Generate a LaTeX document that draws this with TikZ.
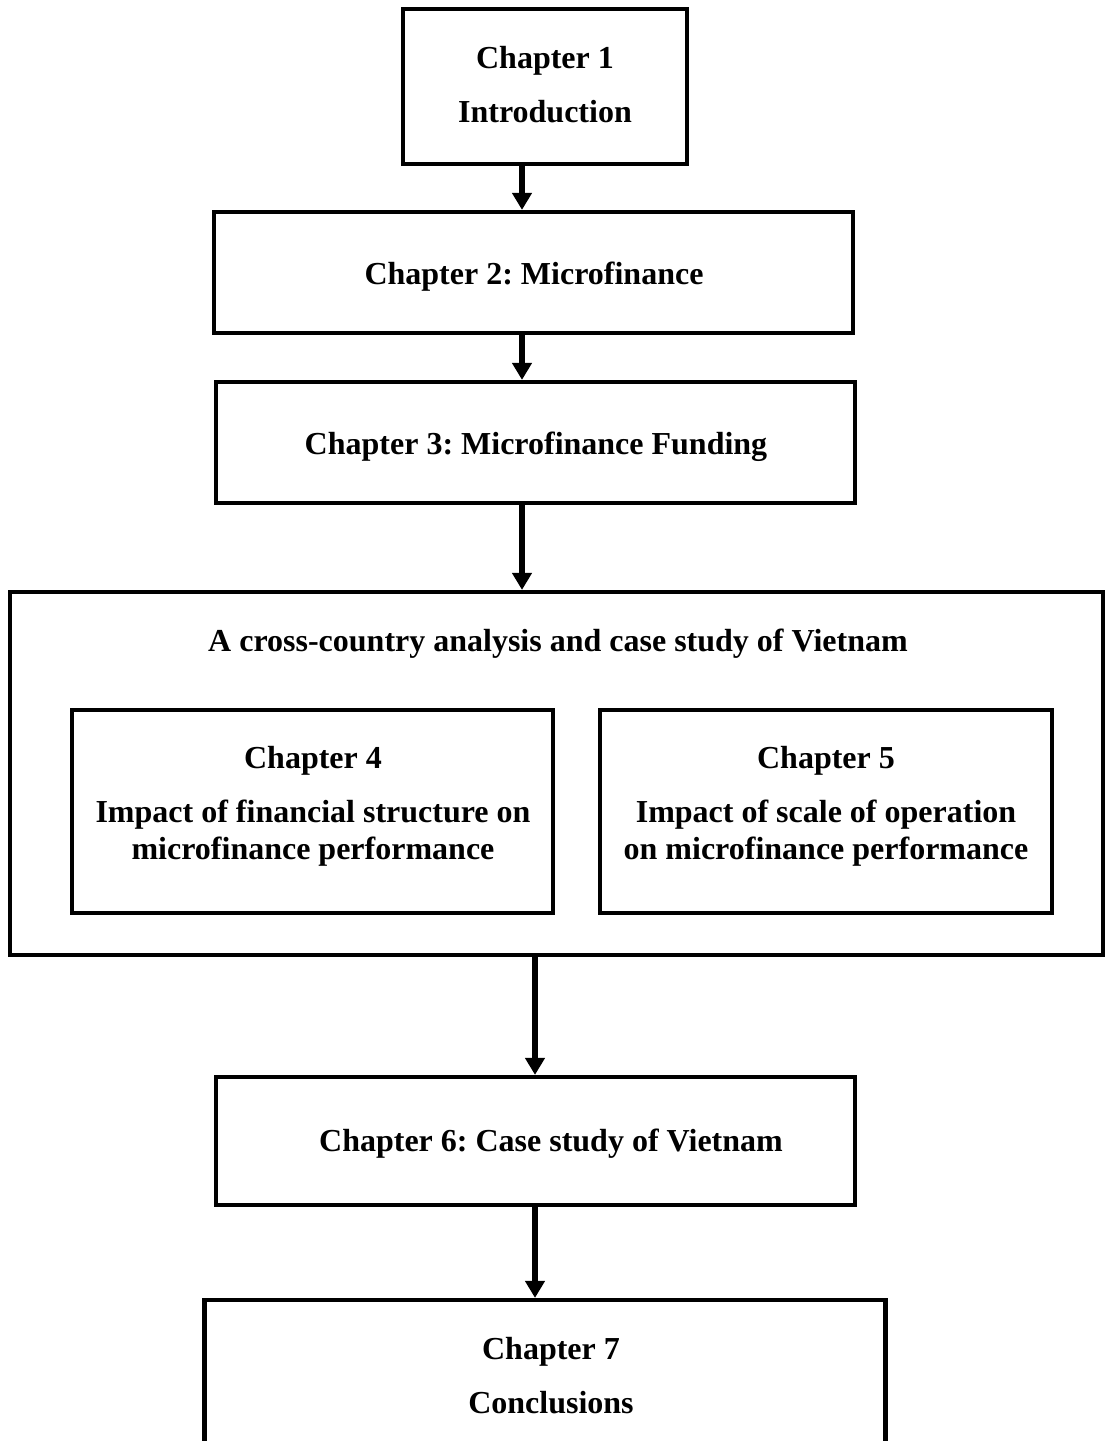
\documentclass[tikz,border=0pt]{standalone}
\usepackage{fontspec}
\setmainfont{Liberation Serif}
\usetikzlibrary{arrows.meta}
\begin{document}
\frenchspacing
\begin{tikzpicture}[x=1pt,y=-1pt,
  box/.style={draw,line width=4.2pt,rectangle,inner sep=0pt},
  txt/.style={font=\fontsize{32}{38}\selectfont\bfseries\frenchspacing,inner sep=0pt,anchor=base},
  arr/.style={line width=6pt,-{Triangle[width=19pt,length=17pt]}}]
\useasboundingbox (0,0) rectangle (1104,1441);
% boxes (centers and sizes in px)
\node[box,minimum width=284,minimum height=155] (b1) at (545,86.5) {};
\node[box,minimum width=639,minimum height=121] (b2) at (533.5,272.5) {};
\node[box,minimum width=639,minimum height=121] (b3) at (535.5,442.5) {};
\node[box,minimum width=1093,minimum height=363] (big) at (556.5,773.5) {};
\node[box,minimum width=481,minimum height=203] (b4) at (312.5,811.5) {};
\node[box,minimum width=452,minimum height=203] (b5) at (826,811.5) {};
\node[box,minimum width=639,minimum height=128] (b6) at (535.5,1141) {};
\node[box,minimum width=681,minimum height=180] (b7) at (545,1390) {};
% texts
\node[txt] (t1a) at (545,68) {Chapter 1};
\node[txt] (t1b) at (545,122) {Introduction};
\node[txt] (t2) at (534,284) {Chapter 2: Microfinance};
\node[txt] (t3) at (536,454) {Chapter 3: Microfinance Funding};
\node[txt] (tbig) at (558,651) {A cross-country analysis and case study of Vietnam};
\node[txt] (t4a) at (313,768) {Chapter 4};
\node[txt] (t4b) at (313,822) {Impact of financial structure on};
\node[txt] (t4c) at (313,859) {microfinance performance};
\node[txt] (t5a) at (826,768) {Chapter 5};
\node[txt] (t5b) at (826,822) {Impact of scale of operation};
\node[txt] (t5c) at (826,859) {on microfinance performance};
\node[txt] (t6) at (551,1151) {Chapter 6: Case study of Vietnam};
\node[txt] (t7a) at (551,1359) {Chapter 7};
\node[txt] (t7b) at (551,1413) {Conclusions};
% arrows
\draw[arr] (522,0 |- b1.south) -- (522,0 |- b2.north);
\draw[arr] (522,0 |- b2.south) -- (522,0 |- b3.north);
\draw[arr] (522,0 |- b3.south) -- (522,0 |- big.north);
\draw[arr] (535,0 |- big.south) -- (535,0 |- b6.north);
\draw[arr] (535,0 |- b6.south) -- (535,0 |- b7.north);
\end{tikzpicture}
\end{document}
